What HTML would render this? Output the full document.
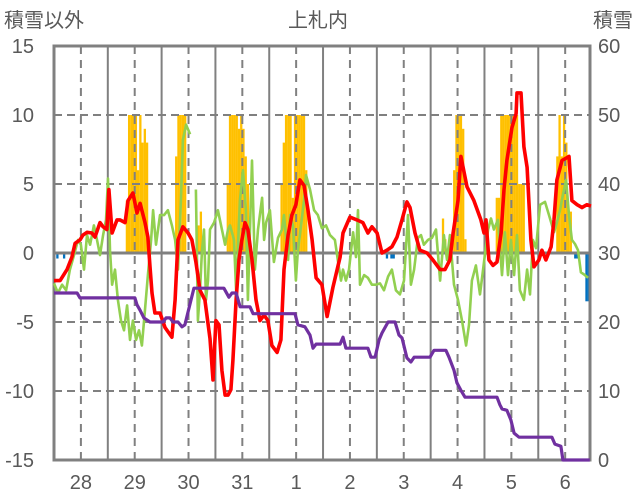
<!DOCTYPE html>
<html><head><meta charset="utf-8">
<style>
html,body{margin:0;padding:0;background:#fff;}
svg{display:block;font-family:"Liberation Sans","Noto Sans CJK JP",sans-serif;}
</style></head>
<body>
<svg id="chart" width="636" height="501" viewBox="0 0 636 501">
<text x="4" y="27" font-size="20" fill="#595959">積雪以外</text>
<text x="318" y="27" font-size="20" fill="#595959" text-anchor="middle">上札内</text>
<text x="633" y="27" font-size="20" fill="#595959" text-anchor="end">積雪</text>
<g id="bars"></g>
<g id="grid"></g>
<g id="frame"></g>
<g id="lines"></g>
<g id="ticks"></g>
</svg>
<script>
const dayLabels=["28","29","30","31","1","2","3","4","5","6"];
const leftTicks=[15,10,5,0,-5,-10,-15];
const rightTicks=[60,50,40,30,20,10,0];
const barHours=[1,4,32,33,34,35,36,37,38,39,40,41,54,55,56,57,58,64,65,77,78,79,80,81,82,83,84,85,86,101,102,103,104,105,106,107,108,109,110,111,112,148,150,151,173,174,178,179,180,181,182,183,197,198,199,200,201,202,203,204,205,206,207,208,209,224,225,226,227,228,229,230,232,233,237,238];
const barValues=[-0.4,-0.4,3.8,10,10,10,10,6,10,8,9,8,7,10,10,10,10,2,3,5,10,10,10,10,9,10,9,7,5,5,8,10,10,10,4,10,10,10,10,10,6,-0.4,-0.4,-0.4,2.5,1,6,10,10,10,9,1,4,4,10,10,10,10,10,10,10,10,5,5,5,7,10,7,10,8,3,3,-0.4,-0.4,-3.5,-3.5];
const redHours=[0,2.7,5.8,8,9.4,11.6,12.9,14.7,16.9,18.3,20.5,21.9,23.6,24.5,25.9,28.1,29.4,31.7,33,35.2,37,38.4,40.6,41.9,42.8,43.7,45,47.3,49.5,52.6,54,55.3,57.5,59.8,
61.5,63.3,65.1,67.3,69.6,70.9,72.2,73.6,74.9,76.3,77.6,78.9,79.8,81.2,82.5,83.8,85.2,86.5,88.3,90.1,91.9,93.7,95.4,97.2,99.5,101.2,102.6,104.4,106.1,107.9,109.7,111.5,113.3,115.1,116.9,
119.5,121.8,124.4,127.6,128.9,132,135.1,137.8,140,141.8,144.1,146.3,148.5,150.7,153,155.2,157.4,158.8,161,163.2,166.4,169,172.2,174.4,176.6,178,180.2,181.5,184.2,187.3,190.4,191.8,192.7,194,195.8,197.6,
199.4,200.7,202,204.3,206.1,206.5,208.3,209.6,211,212.7,214.1,216.3,217.6,219.4,221.7,223,224.3,226.6,229.7,231,233.3,235.5,237.7,239.5];
const redValues=[-2,-2,-1.2,-0.3,0.7,0.95,1.3,1.5,1.45,1.15,2.2,1.9,1.7,4.6,1.45,2.4,2.4,2.2,3.8,4.35,2.9,3.6,2.2,1.15,-1,-2.9,-4.35,-4.35,-5.4,-6.1,-3.4,0.95,1.9,1.45,
0.95,-0.65,-2.7,-3.4,-6.2,-9.2,-4.9,-5.2,-8.5,-10.3,-10.3,-9.9,-7.8,-3.4,-0.5,0.95,2.2,1.7,-0.5,-3.4,-4.9,-4.5,-4.9,-6.7,-7.2,-6.3,-1.2,1.3,2.75,3.5,5.3,4.9,3.1,0.95,-1.8,
-2.3,-4.6,-2.5,-0.3,1.45,2.6,2.4,2.2,1.45,1.9,1.45,0,0.2,0.45,1.15,2.4,3.7,3.3,1.45,0.2,0,-0.5,-1.2,-1.2,-0.5,1.45,3.8,7,4.8,3.8,2.4,1.45,2.4,-0.5,-0.9,-0.65,
1.45,4.6,6.7,9.1,10.1,11.6,11.6,7.7,6.2,0.95,-1,-0.5,0.2,-0.5,0.45,2.4,5.3,6.7,7,3.8,3.5,3.3,3.5,3.4];
const greenHours=[0,1.8,3.6,5.4,7.1,8.9,10.7,12,13.4,14.7,16.1,17.8,19.2,20.5,21.9,23.2,24.1,25,25.9,27.2,28.5,29.9,31.2,32.6,33.9,35.2,36.6,37.9,39.2,40.6,41.9,43.3,44.2,45.5,47.3,49.1,50.8,52.6,54,55.3,56.6,57.5,58.9,60.7,
62,63.3,64.2,65.1,66,66.9,67.8,68.7,69.6,71.4,73.1,74.9,76.3,77.6,78.5,80.3,81.2,82.9,84.3,85.6,86.5,88.3,89.6,91,92.8,93.7,94.6,96.3,98.1,99.9,101.7,102.6,104.4,105.3,106.6,107.9,108.8,109.7,111.5,112.4,114.2,116,117.7,119.5,121.3,123.1,125.3,126.7,128,128.9,130.2,131.6,133.4,134.7,135.6,136.5,138.3,140,141.8,143.6,145.4,147.2,149,150.7,152.5,154.3,156.1,157.9,159.2,160.6,162.3,163.7,165,166.8,168.6,170.4,172.2,173.9,175.3,176.6,178.4,180.2,182,183.8,185.1,186.4,188.2,190,191.8,193.6,194.9,196.2,198,199.8,201.1,202.5,203.8,205.2,206.5,207.8,209.6,211,212.3,213.6,215,216.8,219,220.8,223,224.3,225.7,227,228.4,229.7,231,232.4,233.7,235,236.8,238.2];
const greenValues=[-2.2,-2.9,-2.3,-2.7,-1.2,-0.15,0.95,0.6,-1.2,1.3,0.6,2,0.95,-0.15,1.3,2.4,5.4,0.2,-2.3,-1.2,-3.4,-4.9,-5.6,-3.8,-6.3,-4.9,-6.3,-5.6,-6.7,-4.1,-1.6,0.95,3.1,0.6,2.75,2.75,3.1,2,0.95,-1.2,3.8,8.2,9.3,8.6,
null,4.6,-4.9,-2.7,0.2,1.7,-3.4,-2,1.7,2.2,3.1,1.7,0.6,1.7,2,0.95,-2.7,3.8,6,3.1,-3.4,6.7,-1.2,1.7,4,0.95,2.2,3.1,-0.65,1.1,1.7,2.75,-0.5,2.75,2,-2,0.2,1.3,3.8,5.65,4.6,3.1,2.75,1.8,2,1.3,0.95,-0.65,-2,-1.2,-2,-1.2,1.5,-0.3,3.1,-2.3,-1.6,-1.8,-2.3,-2.3,-2.2,-2.7,-1.7,-1.2,-2.7,-3,-2,2.75,-2.3,-1.2,1.1,1.3,0.6,0.95,1.1,1.7,-2,1.3,-0.5,1.3,-2.3,-3.4,-4.9,-6.7,-5.2,-2,-0.9,-3,-0.65,1.7,2.5,1.7,2.4,-1.6,1.5,-1.6,0.95,-1.6,1.3,-2.7,-3.4,-1.2,-3,0.95,0.35,3.5,3.7,2.75,1.5,2.2,3.1,4.2,5.3,2.75,0.95,0.65,0.2,-1.4,-1.6,-1.8];
const snowHours=[0,10.3,11.6,36.1,37,38.4,40.1,42.8,48.6,50,51.7,53.1,55.3,57.1,58.4,62.4,75.8,78,79.4,81.2,83,87.4,88.8,107.5,108.8,111.9,114.2,115.5,116.9,127.6,128.9,130.2,140,141.4,143.2,145,146.3,149,152.1,153.9,155.2,157.4,159.2,160.6,167.7,169.5,174.8,176.2,178.4,179.7,181.5,183.3,197.6,198.9,199.8,202,203.8,205.2,207.4,222.1,223.4,226.1,227,239];
const snowDepth=[24.2,24.2,23.5,23.5,22.5,21.7,20.6,20,20,20.6,20.6,20,20,19.3,19.6,24.9,24.9,23.6,24.2,24.2,22.2,22.2,21.2,21.2,19.6,19.3,18.1,16.2,16.8,16.8,17.8,16.2,16.2,14.9,14.9,17.4,18.4,20,20,18.1,17.7,14.8,14.2,14.9,14.9,15.9,15.9,14.9,13,11.2,10.1,9.1,9.1,8,7.4,7.2,5.8,3.9,3.3,3.3,2.3,2,0,0];

const NS="http://www.w3.org/2000/svg";
const L=54,R=590,T=46,B=460;
function xs(h){return L+h*2.242;}
function yl(v){return 253-v*13.8;}
function yr(v){return B-v*6.9;}
function mk(tag,attrs,parent){const e=document.createElementNS(NS,tag);for(const k in attrs)e.setAttribute(k,attrs[k]);parent.appendChild(e);return e;}

const gBars=document.getElementById('bars');
barHours.forEach((h,i)=>{
  const v=barValues[i];const y0=yl(0),y1=yl(v);
  const r=mk('rect',{x:xs(h),y:Math.min(y0,y1),width:2.3,height:Math.abs(y1-y0),fill:v>=0?'#FFC000':'#0070C0'},gBars);
  
  
});

const gGrid=document.getElementById('grid');
[10,5,-5,-10].forEach(v=>{
  const l=mk('line',{x1:L,x2:R,y1:yl(v),y2:yl(v),stroke:'#808080','stroke-width':2,'stroke-dasharray':'8,5'},gGrid);
  
  
});
for(let d=1;d<10;d++){
  const l=mk('line',{x1:xs(d*24),x2:xs(d*24),y1:T,y2:B,stroke:'#808080','stroke-width':2},gGrid);
  
  
}
dayLabels.forEach((lab,i)=>{
  const x=xs(12+i*24);
  const l=mk('line',{x1:x,x2:x,y1:T,y2:B,stroke:'#808080','stroke-width':2,'stroke-dasharray':'8,6'},gGrid);
  
  
});
const z=mk('line',{x1:L,x2:R,y1:yl(0),y2:yl(0),stroke:'#808080','stroke-width':3},gGrid);



const gF=document.getElementById('frame');
const fr=mk('rect',{x:L,y:T,width:R-L,height:B-T,fill:'none',stroke:'#808080','stroke-width':3},gF);



const gLines=document.getElementById('lines');
function path(hours,vals,yf){
  let d='',pen=false;
  hours.forEach((h,i)=>{const v=vals[i];if(v===null){pen=false;return;}d+=(pen?'L':'M')+xs(h).toFixed(1)+','+yf(v).toFixed(1);pen=true;});
  return d;
}
const pg=mk('path',{d:path(greenHours,greenValues,yl),fill:'none',stroke:'#92D050','stroke-width':2.6,'stroke-linejoin':'round'},gLines);


const pr=mk('path',{d:path(redHours,redValues,yl),fill:'none',stroke:'#FF0000','stroke-width':3.6,'stroke-linejoin':'round'},gLines);


const pp=mk('path',{d:path(snowHours,snowDepth,yr),fill:'none',stroke:'#7030A0','stroke-width':3.2,'stroke-linejoin':'round'},gLines);



const gT=document.getElementById('ticks');
leftTicks.forEach(v=>{
  const t=mk('text',{x:34,y:yl(v)+7,'font-size':20,fill:'#595959','text-anchor':'end'},gT);
  t.textContent=v;
  
  
});
rightTicks.forEach(v=>{
  const t=mk('text',{x:598,y:yr(v)+7,'font-size':20,fill:'#595959'},gT);
  t.textContent=v;
  
  
});
dayLabels.forEach((lab,i)=>{
  const t=mk('text',{x:xs(12+i*24),y:489,'font-size':20,fill:'#595959','text-anchor':'middle'},gT);
  t.textContent=lab;
  
  
});
</script>
</body></html>
